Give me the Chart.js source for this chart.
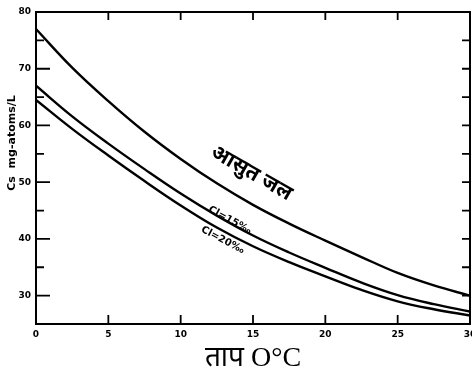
<!DOCTYPE html>
<html>
<head>
<meta charset="utf-8">
<script src="https://cdn.jsdelivr.net/npm/chart.js@4/dist/chart.umd.min.js"></script>
<style>
  html, body { margin: 0; padding: 0; background: #fff; }
  #wrap { width: 472px; height: 379px; position: relative; }
</style>
</head>
<body>
<div id="wrap"><canvas id="solubilityChart"></canvas></div>
<script>
// temperature (°C)
const temps = [0, 2.5, 5, 7.5, 10, 12.5, 15, 17.5, 20, 22.5, 25, 27.5, 30];
// distilled water
const pureWater = [77.0, 70.2, 64.3, 58.9, 54.1, 49.8, 46.0, 42.7, 39.7, 36.8, 34.0, 31.8, 30.0];
// Cl = 15 ‰
const cl15 = [67.0, 61.6, 56.8, 52.3, 48.0, 44.1, 40.6, 37.6, 34.9, 32.3, 30.1, 28.5, 27.2];
// Cl = 20 ‰
const cl20 = [64.5, 59.4, 54.7, 50.2, 45.9, 42.0, 38.7, 35.9, 33.4, 31.0, 29.0, 27.6, 26.5];

const xTicks = [0, 5, 10, 15, 20, 25, 30];
const yTicks = [30, 40, 50, 60, 70, 80];

const yTitle = "Cs  mg-atoms/L";

// curve labels: [text, x, y, angle deg, font]
const curveLabels = [
    ["आसुत जल", 14.9, 51.6, 30, "bold 21px 'Noto Sans', sans-serif"],
    ["Cl=15‰", 13.4, 43.3, 29, "bold 10px 'DejaVu Sans', sans-serif"],
    ["Cl=20‰", 12.9, 39.8, 28, "bold 10px 'DejaVu Sans', sans-serif"]
];

/*
|--------------------------------------------------------------------------
| frame, inward ticks, y title and curve labels
|--------------------------------------------------------------------------
*/
const framePlugin = {
    id: "frame",
    afterDatasetsDraw(chart) {
        const ctx = chart.ctx;
        const a = chart.chartArea;
        const xs = chart.scales.x;
        const ys = chart.scales.y;

        ctx.save();
        ctx.strokeStyle = "#000";
        ctx.lineWidth = 2;
        ctx.strokeRect(a.left, a.top, a.right - a.left, a.bottom - a.top);

        ctx.lineWidth = 1.8;
        ctx.beginPath();
        ys.ticks.forEach(t => {
            const py = ys.getPixelForValue(t.value);
            if (t.value <= ys.min || t.value >= ys.max) return;
            const len = t.value % 10 === 0 ? 14 : 8;
            ctx.moveTo(a.left, py);
            ctx.lineTo(a.left + len, py);
            ctx.moveTo(a.right, py);
            ctx.lineTo(a.right - 8, py);
        });
        xs.ticks.forEach(t => {
            const px = xs.getPixelForValue(t.value);
            if (t.value <= xs.min || t.value >= xs.max) return;
            ctx.moveTo(px, a.bottom);
            ctx.lineTo(px, a.bottom - 9);
            ctx.moveTo(px, a.top);
            ctx.lineTo(px, a.top + 8);
        });
        ctx.stroke();

        ctx.fillStyle = "#000";
        ctx.textAlign = "center";
        ctx.textBaseline = "middle";

        ctx.save();
        ctx.translate(12, 143);
        ctx.rotate(-Math.PI / 2);
        ctx.font = "bold 11px 'DejaVu Sans', sans-serif";
        ctx.fillText(yTitle, 0, 0);
        ctx.restore();

        curveLabels.forEach(([text, x, y, ang, font]) => {
            ctx.save();
            ctx.translate(xs.getPixelForValue(x), ys.getPixelForValue(y));
            ctx.rotate(ang * Math.PI / 180);
            ctx.font = font;
            ctx.fillText(text, 0, 0);
            ctx.restore();
        });
        ctx.restore();
    }
};

function line(label, values) {
    return {
        label: label,
        data: temps.map((t, i) => ({ x: t, y: values[i] })),
        borderColor: "#000",
        borderWidth: 2.4,
        pointRadius: 0,
        tension: 0.4,
        fill: false
    };
}

const chartCanvas = document.getElementById("solubilityChart");

new Chart(chartCanvas, {
    type: "line",
    data: {
        datasets: [
            line("आसुत जल", pureWater),
            line("Cl=15‰", cl15),
            line("Cl=20‰", cl20)
        ]
    },
    options: {
        responsive: true,
        maintainAspectRatio: false,
        animation: false,
        layout: { padding: { top: 12, right: 2, left: 0, bottom: 0 } },
        plugins: {
            legend: { display: false },
            tooltip: { enabled: false }
        },
        scales: {
            x: {
                type: "linear",
                min: 0,
                max: 30,
                afterBuildTicks: s => { s.ticks = xTicks.map(v => ({ value: v })); },
                afterFit: s => {
                    s.height = 55;
                    s.paddingLeft = 0;
                    s.paddingRight = 0;
                },
                grid: { display: false, drawTicks: false },
                border: { display: false },
                ticks: {
                    color: "#000",
                    padding: 5,
                    maxRotation: 0,
                    font: { family: "'DejaVu Sans', sans-serif", size: 9, weight: "bold" }
                },
                title: {
                    display: true,
                    text: "ताप O°C",
                    color: "#000",
                    padding: { top: 0, bottom: 4 },
                    font: { family: "'Liberation Serif', 'Noto Sans', serif", size: 28 }
                }
            },
            y: {
                type: "linear",
                min: 25,
                max: 80,
                afterBuildTicks: s => {
                    const t = [];
                    for (let v = 25; v <= 80; v += 5) t.push({ value: v });
                    s.ticks = t;
                },
                afterFit: s => {
                    s.width = 36;
                    s.paddingTop = 0;
                    s.paddingBottom = 0;
                },
                grid: { display: false, drawTicks: false },
                border: { display: false },
                ticks: {
                    color: "#000",
                    padding: 5,
                    callback: v => (yTicks.includes(v) ? String(v) : ""),
                    font: { family: "'DejaVu Sans', sans-serif", size: 9, weight: "bold" }
                }
            }
        }
    },
    plugins: [framePlugin]
});
</script>
</body>
</html>
